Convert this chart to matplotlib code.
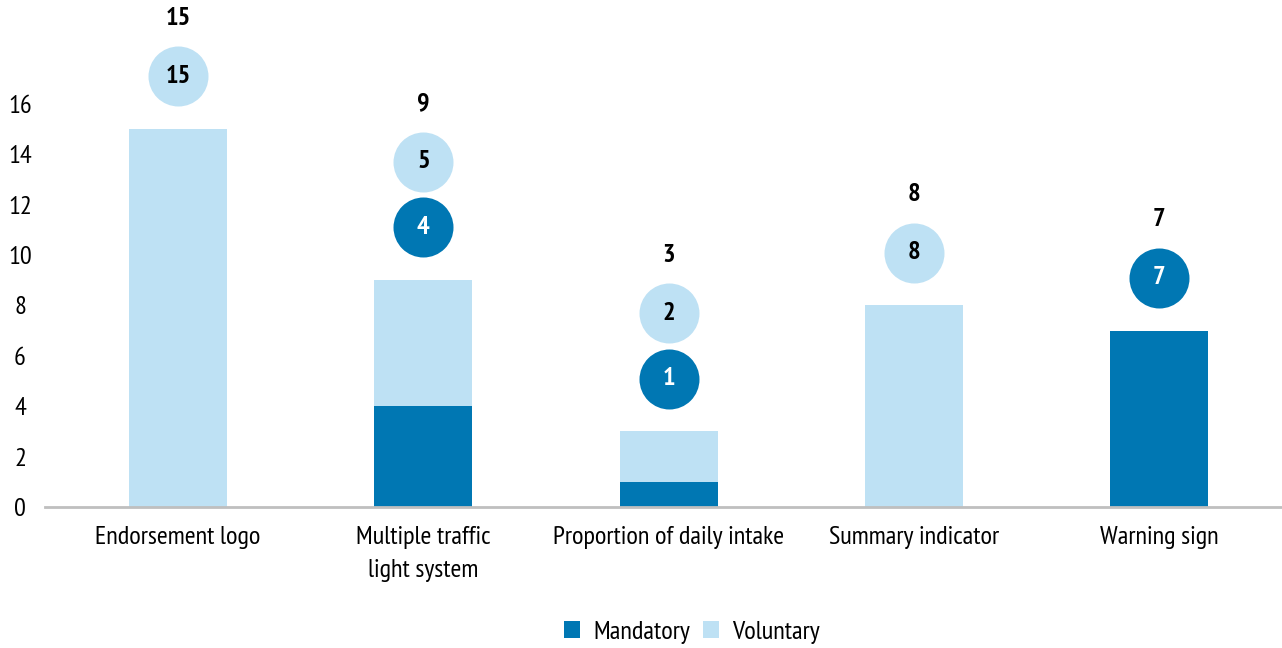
import matplotlib
matplotlib.use("Agg")
import matplotlib.pyplot as plt
import numpy as np

# Data
categories = ["Endorsement logo", "Multiple traffic\nlight system", "Proportion of daily intake",
              "Summary indicator", "Warning sign"]
mandatory = [0, 4, 1, 0, 7]
voluntary = [15, 5, 2, 8, 0]
y_ticks = [0, 2, 4, 6, 8, 10, 12, 14, 16]

dark = "#0077B3"
light = "#BEE1F4"

# condensed face, falls back down the list if one is missing
plt.rcParams["font.family"] = ["PT Sans Narrow", "Fira Sans Condensed", "Roboto Condensed",
                               "Archivo Narrow", "Liberation Sans Narrow", "DejaVu Sans"]
fs = 19

fig = plt.figure(figsize=(12.82, 6.48), dpi=100)
ax = fig.add_axes([45 / 1282, 1 - 507 / 648, 1 - 45 / 1282, 20 * 25.19 / 648])

x = np.arange(len(categories))
w = 0.4
ax.bar(x, mandatory, w, color=dark, label="Mandatory")
ax.bar(x, voluntary, w, bottom=mandatory, color=light, label="Voluntary")

# circles + totals above each bar
for i in range(len(categories)):
    total = mandatory[i] + voluntary[i]
    y = total + 2.1
    for val, col, tcol in ((mandatory[i], dark, "white"), (voluntary[i], light, "black")):
        if val == 0:
            continue
        ax.scatter(x[i], y, s=1866, color=col, zorder=3, clip_on=False, linewidths=0)
        ax.text(x[i], y, str(val), ha="center", va="center", color=tcol,
                fontsize=fs, fontweight="bold", zorder=4)
        y += 2.6
    ax.text(x[i], y - 2.6 + 2.3, str(total), ha="center", va="center",
            fontsize=fs, fontweight="bold")

ax.set_xlim(-0.542, 4.5)
ax.set_ylim(0, 20)
ax.set_yticks(y_ticks)
ax.set_xticks(x)
ax.set_xticklabels(categories, fontsize=fs, va="top", linespacing=1.55)
ax.tick_params(axis="both", length=0)
ax.tick_params(axis="x", pad=14)
for lab in ax.get_yticklabels():
    lab.set_fontsize(fs)
    lab.set_horizontalalignment("center")
ax.tick_params(axis="y", pad=18)

for s in ("top", "right", "left"):
    ax.spines[s].set_visible(False)
ax.spines["bottom"].set_color("#BFBFBF")
ax.spines["bottom"].set_linewidth(2)

fig.legend(loc="center", bbox_to_anchor=(692 / 1282, 1 - 632 / 648), ncol=2, frameon=False,
           fontsize=fs, handlelength=0.6, handleheight=0.6, handletextpad=0.5, columnspacing=0.5)

fig.savefig("out.png", dpi=100)
